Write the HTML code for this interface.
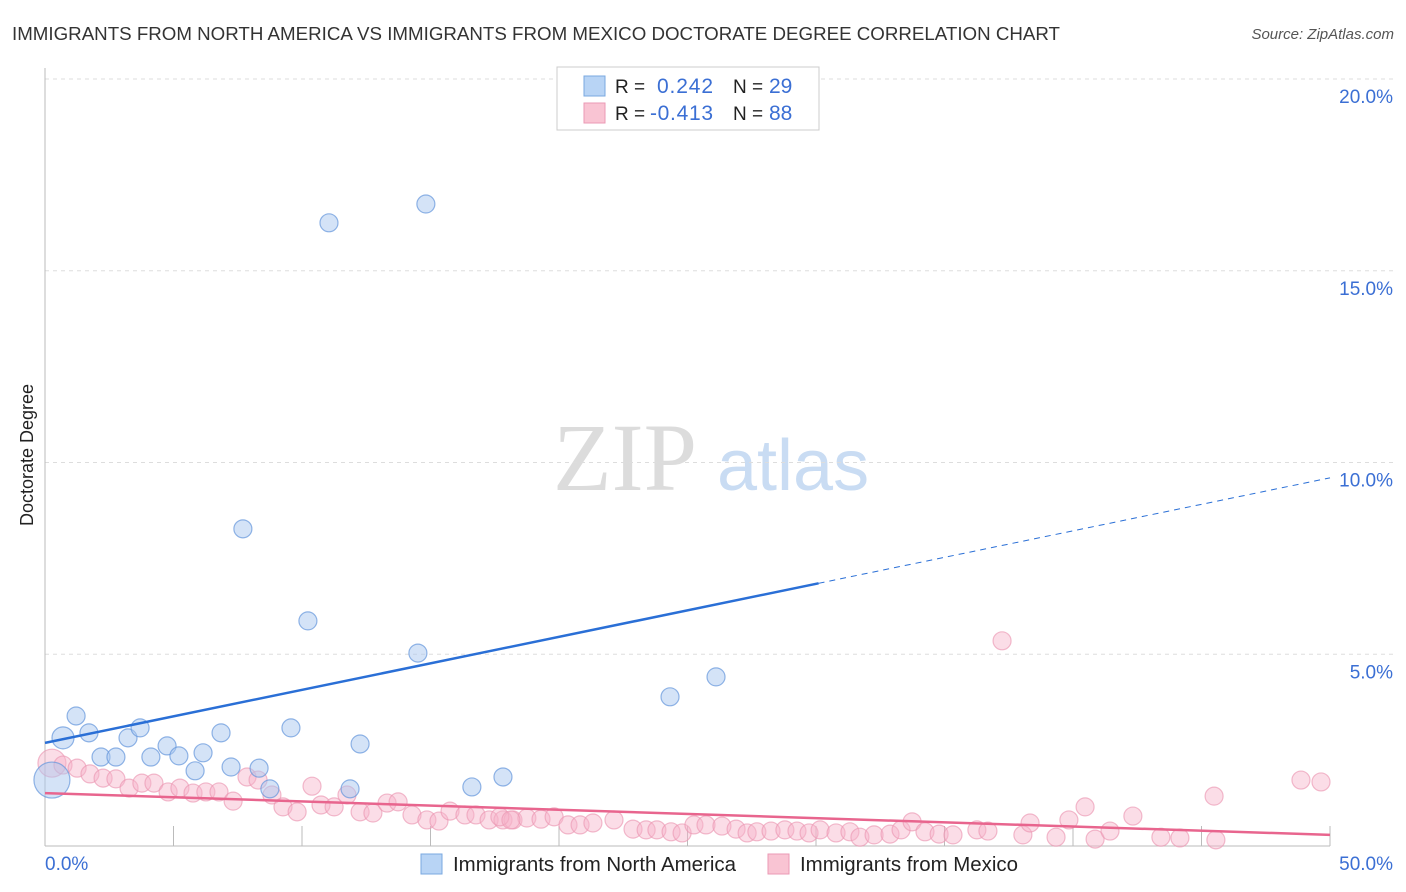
<!DOCTYPE html>
<html><head><meta charset="utf-8"><style>
body{margin:0;background:#fff;font-family:"Liberation Sans",sans-serif;}
svg{display:block}
</style></head><body>
<svg id="chart" width="1406" height="892" viewBox="0 0 1406 892">
<text x="12" y="40" font-size="18.5" fill="#333" textLength="1048" lengthAdjust="spacingAndGlyphs">IMMIGRANTS FROM NORTH AMERICA VS IMMIGRANTS FROM MEXICO DOCTORATE DEGREE CORRELATION CHART</text>
<text x="1394" y="39" font-size="15" fill="#555" font-style="italic" text-anchor="end">Source: ZipAtlas.com</text>
<text transform="translate(33,455) rotate(-90)" font-size="18" fill="#222" text-anchor="middle">Doctorate Degree</text>
<g>
<text x="553" y="490" font-family="Liberation Serif,serif" font-size="96" fill="#dcdcdc">ZIP</text>
<text x="717" y="490" font-size="72" fill="#c9dcf3">atlas</text>
</g>
<g id="grid"></g><g id="axes"></g><g id="pts"></g><g id="lines"></g>
<g>
<rect x="557" y="67" width="262" height="63" fill="#fff" stroke="#ccc"/>
<rect x="584" y="76" width="21" height="20" fill="#b8d4f5" stroke="#7aa8e0"/>
<rect x="584" y="103" width="21" height="20" fill="#f9c4d3" stroke="#eb9ab4"/>
<text x="615" y="93" font-size="19" fill="#222">R =</text><text x="657" y="93" font-size="21" fill="#3b6fd4" textLength="56">0.242</text>
<text x="733" y="93" font-size="19" fill="#222">N =</text><text x="769" y="93" font-size="21" fill="#3b6fd4">29</text>
<text x="615" y="120" font-size="19" fill="#222">R =</text><text x="650" y="120" font-size="21" fill="#3b6fd4" textLength="63">-0.413</text>
<text x="733" y="120" font-size="19" fill="#222">N =</text><text x="769" y="120" font-size="21" fill="#3b6fd4">88</text>
</g>
<g>
<rect x="421" y="854" width="21" height="20" fill="#b8d4f5" stroke="#7aa8e0"/>
<text x="453" y="871" font-size="20" fill="#222" textLength="283" lengthAdjust="spacingAndGlyphs">Immigrants from North America</text>
<rect x="768" y="854" width="21" height="20" fill="#f9c4d3" stroke="#eb9ab4"/>
<text x="800" y="871" font-size="20" fill="#222" textLength="218" lengthAdjust="spacingAndGlyphs">Immigrants from Mexico</text>
</g>
<text x="45" y="870" font-size="19" fill="#3b6fd4">0.0%</text>
<text x="1393" y="870" font-size="19" fill="#3b6fd4" text-anchor="end">50.0%</text>
</svg>
<script>
const yTicks=[5,10,15,20];
const yTickLabels=["5.0%","10.0%","15.0%","20.0%"];
const naX=[0.27,0.70,1.21,1.71,2.18,2.76,3.23,3.70,4.12,4.75,5.21,5.84,6.15,6.85,7.24,7.70,8.33,8.75,9.57,10.23,11.05,11.87,12.26,14.51,14.82,16.61,17.82,24.32,26.11];
const naY=[1.72,2.82,3.39,2.95,2.32,2.32,2.82,3.08,2.32,2.61,2.35,1.96,2.43,2.95,2.06,8.27,2.03,1.49,3.08,5.87,16.25,1.49,2.66,5.03,16.74,1.54,1.80,3.89,4.41];
const mxX=[0.27,0.70,1.25,1.75,2.26,2.76,3.27,3.77,4.24,4.79,5.25,5.76,6.26,6.77,7.32,7.86,8.29,8.83,9.26,9.81,10.39,10.74,11.25,11.75,12.26,12.76,13.31,13.74,14.28,14.86,15.33,15.76,16.34,16.77,17.28,17.82,18.21,18.75,17.70,18.13,19.30,19.81,20.35,20.82,21.32,22.14,22.88,23.39,23.81,24.36,24.79,25.25,25.72,26.34,26.89,27.32,27.70,28.25,28.79,29.26,29.73,30.16,30.78,31.32,31.71,32.26,32.88,33.31,33.74,34.24,34.79,35.33,36.26,36.69,37.24,38.05,38.33,39.34,39.84,40.47,40.86,41.44,42.33,43.42,44.16,45.49,45.56,48.87,49.65];
const mxY=[2.16,2.11,2.03,1.88,1.77,1.75,1.51,1.64,1.64,1.41,1.51,1.38,1.41,1.41,1.17,1.80,1.72,1.33,1.02,0.89,1.56,1.07,1.02,1.33,0.89,0.86,1.12,1.15,0.81,0.68,0.65,0.91,0.81,0.81,0.68,0.68,0.68,0.73,0.76,0.68,0.70,0.76,0.55,0.55,0.60,0.68,0.44,0.42,0.42,0.37,0.34,0.55,0.55,0.52,0.44,0.34,0.37,0.39,0.42,0.39,0.34,0.42,0.34,0.37,0.23,0.29,0.31,0.42,0.63,0.37,0.31,0.29,0.42,0.39,5.35,0.29,0.60,0.23,0.68,1.02,0.18,0.39,0.78,0.23,0.21,1.30,0.16,1.72,1.67];
const naTrend=[2.69,9.60];
const mxTrend=[1.38,0.29];
const naSolidEnd=30.1;

const NS="http://www.w3.org/2000/svg";
const sx=v=>45+v*25.7;
const sy=v=>846-v*38.35;
function mk(tag,attrs,parent){const e=document.createElementNS(NS,tag);for(const k in attrs)e.setAttribute(k,attrs[k]);parent.appendChild(e);return e;}
const grid=document.getElementById('grid'),axes=document.getElementById('axes'),pts=document.getElementById('pts'),lines=document.getElementById('lines');
yTicks.forEach((t,i)=>{
  const l=mk('line',{x1:45,x2:1393,y1:sy(t),y2:sy(t),stroke:'#ddd','stroke-dasharray':'4,4'},grid);
  
  
  const tx=mk('text',{x:1393,y:sy(t)+24,'font-size':19,fill:'#3b6fd4','text-anchor':'end'},grid);
  tx.textContent=yTickLabels[i];
  
  
});
const ya=mk('line',{x1:45,x2:45,y1:68,y2:846,stroke:'#bbb'},axes);


const xa=mk('line',{x1:45,x2:1330,y1:846,y2:846,stroke:'#bbb'},axes);


for(let v=0;v<=50;v+=5){
  const t=mk('line',{x1:sx(v),x2:sx(v),y1:826,y2:846,stroke:'#bbb'},axes);
  
  
}
mxX.forEach((x,i)=>{
  const c=mk('circle',{cx:sx(x),cy:sy(mxY[i]),r:i==0?14:9,fill:'rgba(247,180,202,0.45)',stroke:'rgba(235,150,178,0.65)','stroke-width':1.2},pts);
  
  
});
naX.forEach((x,i)=>{
  const c=mk('circle',{cx:sx(x),cy:sy(naY[i]),r:i==0?18:(i==1?11:9),fill:'rgba(170,200,240,0.5)',stroke:'rgba(100,150,220,0.7)','stroke-width':1.2},pts);
  
  
});
const ny=x=>naTrend[0]+(naTrend[1]-naTrend[0])*x/50;
const l1=mk('line',{x1:sx(0),y1:sy(ny(0)),x2:sx(naSolidEnd),y2:sy(ny(naSolidEnd)),stroke:'#2a6fd6','stroke-width':2.5},lines);


const l2=mk('line',{x1:sx(naSolidEnd),y1:sy(ny(naSolidEnd)),x2:sx(50),y2:sy(ny(50)),stroke:'#2a6fd6','stroke-width':1,'stroke-dasharray':'6,5'},lines);


const l3=mk('line',{x1:sx(0),y1:sy(mxTrend[0]),x2:sx(50),y2:sy(mxTrend[1]),stroke:'#e8658e','stroke-width':2.5},lines);


</script>
</body></html>
